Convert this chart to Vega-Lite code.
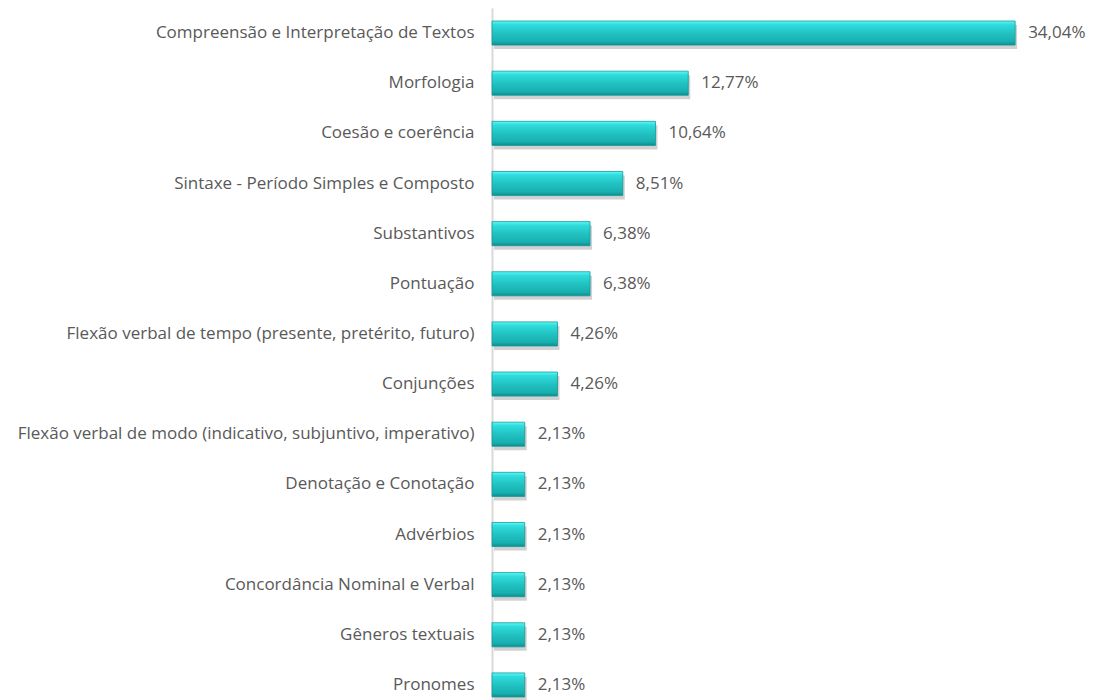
{
  "$schema": "https://vega.github.io/schema/vega-lite/v6.json",
  "width": 584,
  "height": 702,
  "autosize": {"type": "none"},
  "padding": {"left": 492, "top": 8, "right": 18, "bottom": 0},
  "background": "white",
  "config": {"view": {"stroke": null}, "font": "Open Sans"},
  "data": {"values": [
    {"topic": "Compreensão e Interpretação de Textos", "value": 34.04, "label": "34,04%"},
    {"topic": "Morfologia", "value": 12.77, "label": "12,77%"},
    {"topic": "Coesão e coerência", "value": 10.64, "label": "10,64%"},
    {"topic": "Sintaxe - Período Simples e Composto", "value": 8.51, "label": "8,51%"},
    {"topic": "Substantivos", "value": 6.38, "label": "6,38%"},
    {"topic": "Pontuação", "value": 6.38, "label": "6,38%"},
    {"topic": "Flexão verbal de tempo (presente, pretérito, futuro)", "value": 4.26, "label": "4,26%"},
    {"topic": "Conjunções", "value": 4.26, "label": "4,26%"},
    {"topic": "Flexão verbal de modo (indicativo, subjuntivo, imperativo)", "value": 2.13, "label": "2,13%"},
    {"topic": "Denotação e Conotação", "value": 2.13, "label": "2,13%"},
    {"topic": "Advérbios", "value": 2.13, "label": "2,13%"},
    {"topic": "Concordância Nominal e Verbal", "value": 2.13, "label": "2,13%"},
    {"topic": "Gêneros textuais", "value": 2.13, "label": "2,13%"},
    {"topic": "Pronomes", "value": 2.13, "label": "2,13%"}
  ]},
  "encoding": {
    "y": {
      "field": "topic", "type": "nominal", "sort": null,
      "scale": {"paddingInner": 0.52, "paddingOuter": 0.26},
      "axis": {
        "title": null, "ticks": false, "labelLimit": 600, "labelPadding": 18,
        "labelFontSize": 17, "labelColor": "#595959", "labelFont": "Open Sans",
        "domainColor": "#D9D9D9", "domainWidth": 2
      }
    },
    "x": {
      "field": "value", "type": "quantitative",
      "scale": {"domain": [0, 38], "nice": false},
      "axis": null
    }
  },
  "layer": [
    {
      "mark": {"type": "bar", "color": "#000000", "opacity": 0.18, "xOffset": 2, "yOffset": 4, "cornerRadius": 0}
    },
    {
      "mark": {
        "type": "bar",
        "color": {
          "gradient": "linear", "x1": 0, "y1": 0, "x2": 0, "y2": 1,
          "stops": [
            {"offset": 0, "color": "#5FF8F8"},
            {"offset": 0.15, "color": "#30DCDC"},
            {"offset": 0.5, "color": "#22C2C2"},
            {"offset": 0.85, "color": "#18AFAF"},
            {"offset": 1, "color": "#0E8C8C"}
          ]
        },
        "stroke": "#119A9A", "strokeWidth": 0.8
      }
    },
    {
      "mark": {"type": "text", "align": "left", "baseline": "middle", "dx": 13, "fontSize": 17, "color": "#595959", "font": "Open Sans"},
      "encoding": {"text": {"field": "label"}}
    }
  ]
}
